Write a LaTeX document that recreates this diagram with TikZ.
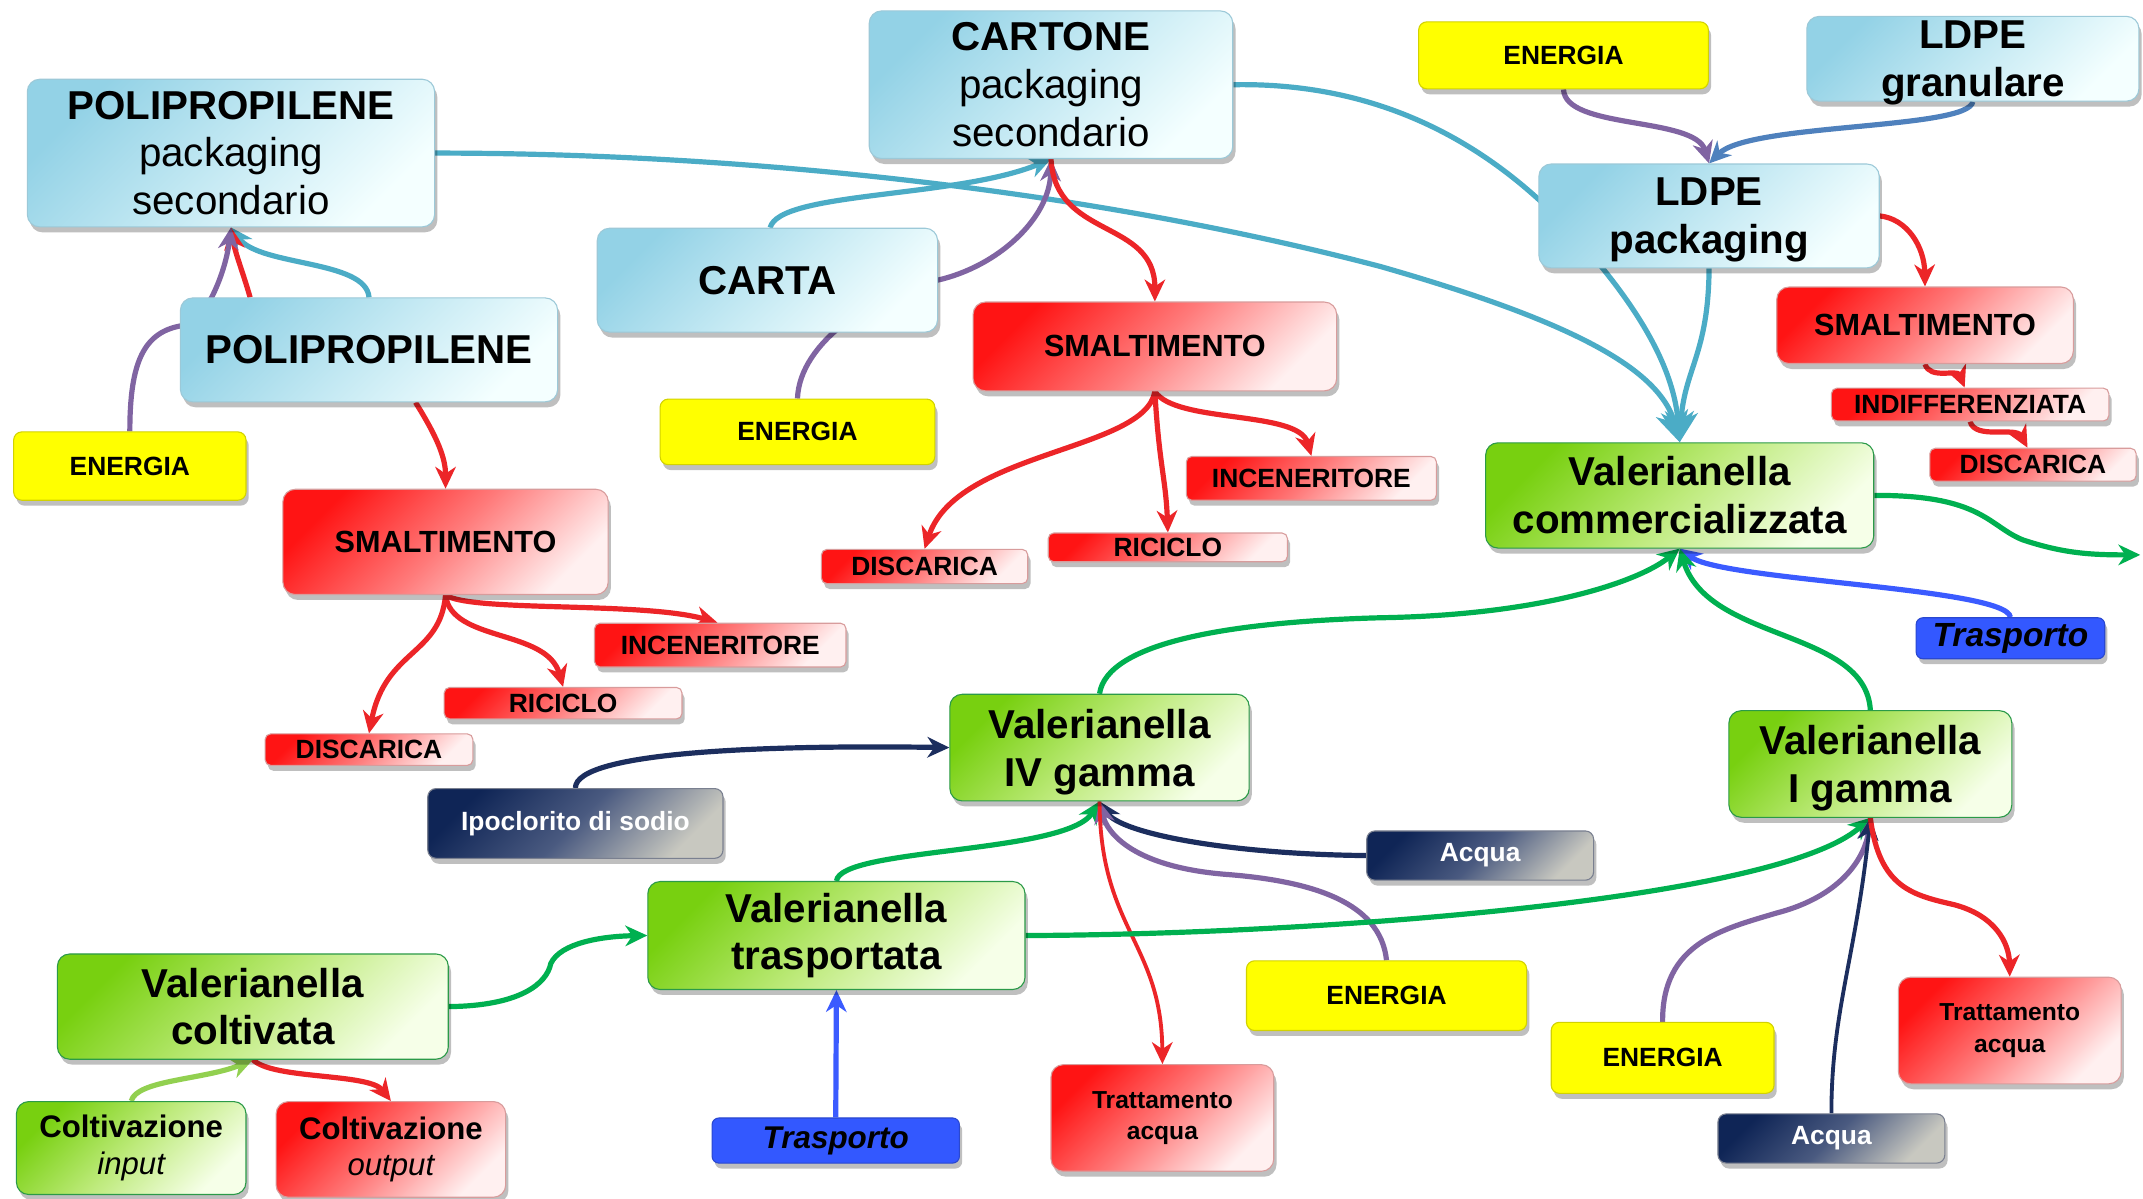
\documentclass[tikz,border=0pt]{standalone}
\usepackage{fontspec}
\setmainfont{Liberation Sans}
\usetikzlibrary{arrows.meta,shadows}
\pgfdeclarelayer{bg}
\pgfsetlayers{bg,main}
\definecolor{cTeal}{HTML}{4BACC6}
\definecolor{cPurple}{HTML}{8064A2}
\definecolor{cRed}{HTML}{EC2528}
\definecolor{cGreen}{HTML}{00B050}
\definecolor{cNavy}{HTML}{1C2E5E}
\definecolor{cBlue}{HTML}{3B5BFF}
\definecolor{cSteel}{HTML}{4F81BD}
\definecolor{cLime}{HTML}{92D050}
\definecolor{blueA}{HTML}{93D2E6}
\definecolor{blueB}{HTML}{C4E9F3}
\definecolor{blueC}{HTML}{F4FFFF}
\definecolor{blueD}{HTML}{9CC9D8}
\definecolor{redA}{HTML}{FF1414}
\definecolor{redB}{HTML}{FF7A7A}
\definecolor{redC}{HTML}{FFF0F0}
\definecolor{redD}{HTML}{D89C9C}
\definecolor{greenA}{HTML}{78D010}
\definecolor{greenB}{HTML}{BDEA7A}
\definecolor{greenC}{HTML}{F6FFE8}
\definecolor{greenD}{HTML}{2B9A48}
\definecolor{navyA}{HTML}{0F2556}
\definecolor{navyB}{HTML}{4A5A80}
\definecolor{navyC}{HTML}{C8C8C0}
\definecolor{navyD}{HTML}{7A8090}
\definecolor{yelA}{HTML}{FFFF00}
\definecolor{yelD}{HTML}{D2D200}
\definecolor{trA}{HTML}{3358FF}
\definecolor{trD}{HTML}{2A48D0}
\newcommand\fbig{\fontsize{29.5}{35}\selectfont}
\newcommand\fsmal{\fontsize{22.4}{26}\selectfont\bfseries}
\newcommand\flab{\fontsize{19.3}{23}\selectfont\bfseries}
\newcommand\ftrat{\fontsize{18}{23}\selectfont\bfseries}
\newcommand\fcolt{\fontsize{22.8}{27}\selectfont}
\begin{document}
\begin{tikzpicture}[x=1pt,y=-1pt,
  base/.style={rounded corners=9pt, inner sep=0pt, align=center, line width=0.8pt,
    drop shadow={shadow xshift=2pt,shadow yshift=-4pt,opacity=0.25,fill=black}},
  bluebox/.style={base, draw=blueD, top color=blueA, bottom color=blueC, middle color=blueB, shading angle=45, font=\fbig},
  redbox/.style={base, draw=redD, top color=redA, bottom color=redC, middle color=redB, shading angle=45},
  smallred/.style={redbox, rounded corners=4pt, font=\flab},
  greenbox/.style={base, draw=greenD, top color=greenA, bottom color=greenC, middle color=greenB, shading angle=45, font=\fbig\bfseries},
  yelbox/.style={base, rounded corners=6pt, draw=yelD, fill=yelA, font=\flab},
  navybox/.style={base, rounded corners=6pt, draw=navyD, top color=navyA, bottom color=navyC, middle color=navyB, shading angle=45, font=\flab, text=white},
  trbox/.style={base, rounded corners=5pt, draw=trD, fill=trA},
  ln/.style={line width=3.8pt},
  lnthin/.style={line width=2.8pt},
  arr/.style={-{Stealth[length=16pt,width=15pt,inset=5pt]}},
  bigarr/.style={-{Stealth[length=22pt,width=24pt,inset=7pt]}}
]
\useasboundingbox (0,0) rectangle (1568,877);
% nodes
\node[bluebox, minimum width=298, minimum height=108] (PPpack) at (169,112) {{\bfseries POLIPROPILENE}\\packaging\\secondario};
\node[bluebox, minimum width=276, minimum height=76, font=\fbig\bfseries] (PP) at (270,256) {POLIPROPILENE};
\node[bluebox, minimum width=266, minimum height=108] (CARTONE) at (769,62) {{\bfseries CARTONE}\\packaging\\secondario};
\node[bluebox, minimum width=249, minimum height=76, font=\fbig\bfseries] (CARTA) at (561.5,205) {CARTA};
\node[bluebox, minimum width=243, minimum height=62, font=\fbig\bfseries, text depth=0pt] (LDPEgran) at (1443.5,43) {LDPE\\granulare};
\node[bluebox, minimum width=249, minimum height=76, font=\fbig\bfseries, text depth=0pt] (LDPEpack) at (1250.5,158) {LDPE\\packaging};
\node[yelbox, minimum width=170, minimum height=50] (E1) at (95,341) {ENERGIA};
\node[yelbox, minimum width=201, minimum height=48] (E2) at (583.5,316) {ENERGIA};
\node[yelbox, minimum width=212, minimum height=49] (E3) at (1144,40.5) {ENERGIA};
\node[yelbox, minimum width=205, minimum height=51] (E4) at (1014.5,728.5) {ENERGIA};
\node[yelbox, minimum width=163, minimum height=52] (E5) at (1216.5,774) {ENERGIA};
\node[redbox, minimum width=238, minimum height=77, font=\fsmal] (S1) at (326,396.5) {SMALTIMENTO};
\node[redbox, minimum width=266, minimum height=65, font=\fsmal] (S2) at (845,253.5) {SMALTIMENTO};
\node[redbox, minimum width=217, minimum height=56, font=\fsmal] (S3) at (1408.5,238) {SMALTIMENTO};
\node[smallred, minimum width=184, minimum height=32] (INC1) at (527,472) {INCENERITORE};
\node[smallred, minimum width=174, minimum height=23] (RIC1) at (412,514.5) {RICICLO};
\node[smallred, minimum width=152, minimum height=23] (DIS1) at (270,548.5) {DISCARICA};
\node[smallred, minimum width=183, minimum height=32] (INC2) at (959.5,350) {INCENERITORE};
\node[smallred, minimum width=175, minimum height=21] (RIC2) at (854.5,400.5) {RICICLO};
\node[smallred, minimum width=151, minimum height=25] (DIS2) at (676.5,414.5) {DISCARICA};
\node[smallred, minimum width=203, minimum height=24] (INDIFF) at (1441.5,296) {INDIFFERENZIATA};
\node[smallred, minimum width=151, minimum height=24] (DIS3) at (1487.5,340) {DISCARICA};
\node[greenbox, minimum width=284, minimum height=77] (Vcomm) at (1229,362.5) {Valerianella\\commercializzata};
\node[greenbox, minimum width=219, minimum height=78, text depth=0pt] (VIV) at (804.5,547) {Valerianella\\IV gamma};
\node[greenbox, minimum width=207, minimum height=78, text depth=0pt] (VI) at (1368.5,559) {Valerianella\\I gamma};
\node[greenbox, minimum width=276, minimum height=79] (Vtrasp) at (612,684.5) {Valerianella\\trasportata};
\node[greenbox, minimum width=286, minimum height=77] (Vcolt) at (185,736.5) {Valerianella\\coltivata};
\node[greenbox, minimum width=168, minimum height=68, font=\fcolt] (Cinput) at (96,840) {{\bfseries Coltivazione}\\\itshape input};
\node[redbox, minimum width=168, minimum height=70, font=\fcolt] (Coutput) at (286,841) {{\bfseries Coltivazione}\\\itshape output};
\node[redbox, minimum width=163, minimum height=78, font=\ftrat] (TrattIV) at (850.5,818) {Trattamento\\acqua};
\node[redbox, minimum width=163, minimum height=78, font=\ftrat] (TrattI) at (1470.5,754) {Trattamento\\acqua};
\node[navybox, minimum width=216, minimum height=51] (Ipo) at (421,602.5) {Ipoclorito di sodio};
\node[navybox, minimum width=166, minimum height=36] (AcquaIV) at (1083,626) {Acqua};
\node[navybox, minimum width=166, minimum height=36] (AcquaI) at (1340,833) {Acqua};
\node[trbox, minimum width=138, minimum height=30, font=\fontsize{24.5}{28}\selectfont\bfseries\itshape] (TR1) at (1471,467) {Trasporto};
\node[trbox, minimum width=181, minimum height=33, font=\fontsize{23}{27}\selectfont\bfseries\itshape] (TR2) at (611.5,834.5) {Trasporto};
\coordinate (out) at (1566,406);
\begin{pgfonlayer}{bg}
\fill[white] (0,0) rectangle (1568,877);
% polipropilene
\draw[ln,cTeal,arr] (PP.north) .. controls (268,190) and (190,195) .. (PPpack.south);
\draw[ln,cRed,arr] ([xshift=-87pt]PP.north) .. controls (178,200) and (172,185) .. (PPpack.south);
\draw[ln,cPurple,arr] (E1.north) .. controls (95,265) and (105,242) .. (135,238) .. controls (150,236) and (165,200) .. (PPpack.south);
\draw[ln,cRed,arr] ([xshift=34pt]PP.south) .. controls (320,320) and (326,335) .. (S1.north);
\draw[ln,cRed,arr] (S1.south) .. controls (345,448) and (470,440) .. ([xshift=-2pt]INC1.north);
\draw[ln,cRed,arr] (S1.south) .. controls (330,470) and (400,460) .. (RIC1.north);
\draw[ln,cRed,arr] (S1.south) .. controls (322,480) and (282,475) .. (DIS1.north);
% long teal
\draw[ln,cTeal,bigarr] (PPpack.east) .. controls (550,112) and (800,140) .. (1010,195) .. controls (1150,235) and (1215,270) .. (Vcomm.north);
\draw[ln,cTeal,bigarr] (CARTONE.east) .. controls (1010,60) and (1090,105) .. (1150,170) .. controls (1200,225) and (1225,270) .. (Vcomm.north);
\draw[ln,cTeal,bigarr] (LDPEpack.south) .. controls (1250,260) and (1232,270) .. (Vcomm.north);
% carta
\draw[ln,cTeal,arr] ([xshift=2pt]CARTA.north) .. controls (570,140) and (700,145) .. (CARTONE.south);
\draw[ln,cPurple,arr] (E2.north) .. controls (585,250) and (640,215) .. (686,205) .. controls (730,195) and (768,160) .. (CARTONE.south);
\draw[ln,cRed,arr] (CARTONE.south) .. controls (772,175) and (845,160) .. (S2.north);
\draw[ln,cRed,arr] (S2.south) .. controls (860,310) and (950,300) .. (INC2.north);
\draw[ln,cRed,arr] (S2.south) .. controls (848,340) and (853,350) .. (RIC2.north);
\draw[ln,cRed,arr] (S2.south) .. controls (838,330) and (700,330) .. (DIS2.north);
% ldpe
\draw[ln,cPurple,arr] (E3.south) .. controls (1145,95) and (1240,85) .. (LDPEpack.north);
\draw[ln,cSteel,arr] (LDPEgran.south) .. controls (1440,95) and (1280,90) .. (LDPEpack.north);
\draw[ln,cRed,arr] (LDPEpack.east) .. controls (1395,160) and (1408,180) .. (S3.north);
\draw[ln,cRed,arr] (S3.south) .. controls (1412,278) and (1432,270) .. ([xshift=-4pt]INDIFF.north);
\draw[ln,cRed,arr] (INDIFF.south) .. controls (1445,322) and (1475,312) .. ([xshift=-4pt]DIS3.north);
% commercializzata
\draw[ln,cGreen,arr] (Vcomm.east) .. controls (1450,362) and (1455,385) .. (1480,395) .. controls (1510,405) and (1530,406) .. (out);
\draw[ln,cBlue,arr] (TR1.north) .. controls (1468,430) and (1260,425) .. (Vcomm.south);
\draw[ln,cGreen,arr] (VIV.north) .. controls (810,470) and (900,455) .. (1010,452) .. controls (1130,450) and (1200,425) .. (Vcomm.south);
\draw[ln,cGreen,arr] (VI.north) .. controls (1365,460) and (1250,470) .. (Vcomm.south);
% IV gamma
\draw[ln,cNavy,arr] (Ipo.north) .. controls (421,550) and (560,545) .. (VIV.west);
\draw[ln,cGreen,arr] (Vtrasp.north) .. controls (615,620) and (780,625) .. (VIV.south);
\draw[ln,cNavy,arr] (AcquaIV.west) .. controls (900,625) and (820,610) .. (VIV.south);
\draw[ln,cPurple,arr] (E4.north) .. controls (1010,660) and (960,645) .. (900,640) .. controls (830,635) and (810,610) .. (VIV.south);
\draw[lnthin,cRed,arr] (VIV.south) .. controls (805,680) and (850,690) .. (TrattIV.north);
% I gamma
\draw[ln,cGreen,arr] (Vtrasp.east) .. controls (950,684) and (1300,660) .. (VI.south);
\draw[ln,cPurple,arr] (E5.north) .. controls (1216,690) and (1260,680) .. (1300,668) .. controls (1350,655) and (1365,625) .. (VI.south);
\draw[lnthin,cNavy,arr] (AcquaI.north) .. controls (1340,740) and (1358,700) .. (VI.south);
\draw[ln,cRed,arr] (VI.south) .. controls (1375,650) and (1400,655) .. (1430,662) .. controls (1460,670) and (1470,690) .. (TrattI.north);
% bottom left
\draw[ln,cGreen,arr] (Vcolt.east) .. controls (380,736) and (400,720) .. (403,705) .. controls (410,690) and (440,685) .. (Vtrasp.west);
\draw[ln,cBlue,arr] (TR2.north) -- (Vtrasp.south);
\draw[ln,cLime,arr] (Cinput.north) .. controls (100,790) and (150,790) .. (Vcolt.south);
\draw[ln,cRed,arr] (Vcolt.south) .. controls (200,790) and (270,785) .. (Coutput.north);
\end{pgfonlayer}
\end{tikzpicture}
\end{document}
